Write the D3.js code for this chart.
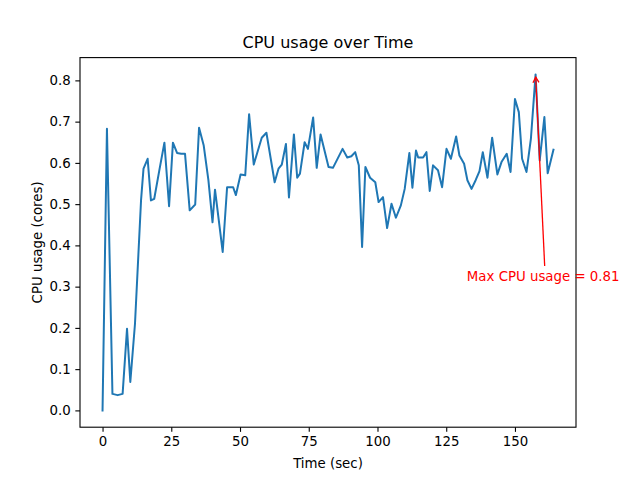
<!DOCTYPE html>
<html>
<head>
<meta charset="utf-8">
<script src="https://d3js.org/d3.v7.min.js"></script>
<style>
  html, body { margin: 0; padding: 0; background: #fff; }
  svg { display: block; font-family: "DejaVu Sans", sans-serif; }
</style>
</head>
<body>
<svg id="chart" width="640" height="480"></svg>
<script>
// ---- data ----
const timeSec = [0, 1.6, 3.6, 5.5, 7.3, 8.9, 10.1, 11.8, 14.0, 14.9, 16.4, 17.6, 18.8, 20.6, 22.5, 24.2, 25.6, 27.1, 28.6, 30.0,
  31.7, 33.7, 35.1, 36.8, 38.5, 40.0, 40.9, 43.7, 45.3, 47.5, 48.5, 50.2, 51.9, 53.3, 55.0, 57.9, 59.6, 62.6, 64.0, 65.2,
  66.7, 67.8, 69.6, 70.8, 71.8, 73.5, 74.7, 76.6, 77.9, 79.3, 82.2, 83.8, 87.3, 89.0, 90.5, 91.9, 93.2, 94.4, 95.6, 97.3,
  99.2, 100.4, 102.0, 103.5, 105.1, 106.7, 108.5, 109.9, 111.6, 112.7, 114.0, 114.8, 116.6, 117.8, 119.0, 120.2, 122.0, 123.5, 125.1, 126.7,
  128.6, 129.8, 131.5, 132.7, 134.2, 135.7, 137.1, 138.3, 140.0, 141.7, 143.6, 145.1, 147.0, 148.4, 150.0, 151.4, 152.6, 154.2, 155.8, 157.5,
  159.0, 160.7, 161.9, 164.0];
const cpuCores = [0.000, 0.683, 0.040, 0.037, 0.040, 0.198, 0.069, 0.210, 0.509, 0.586, 0.610, 0.509, 0.513, 0.580, 0.649, 0.495, 0.649, 0.624, 0.622, 0.622,
  0.485, 0.499, 0.685, 0.642, 0.558, 0.456, 0.535, 0.384, 0.541, 0.541, 0.522, 0.572, 0.570, 0.718, 0.596, 0.661, 0.673, 0.553, 0.586, 0.596,
  0.646, 0.516, 0.669, 0.564, 0.574, 0.650, 0.634, 0.710, 0.588, 0.669, 0.590, 0.588, 0.634, 0.613, 0.616, 0.626, 0.594, 0.396, 0.590, 0.564,
  0.553, 0.505, 0.517, 0.442, 0.501, 0.467, 0.497, 0.537, 0.624, 0.540, 0.630, 0.613, 0.613, 0.626, 0.532, 0.594, 0.582, 0.541, 0.634, 0.610,
  0.664, 0.618, 0.598, 0.558, 0.537, 0.558, 0.580, 0.626, 0.564, 0.661, 0.572, 0.602, 0.622, 0.578, 0.755, 0.723, 0.610, 0.578, 0.659, 0.8145,
  0.606, 0.711, 0.575, 0.632];
const xTicks = [0, 25, 50, 75, 100, 125, 150];
const yTicks = [0.0, 0.1, 0.2, 0.3, 0.4, 0.5, 0.6, 0.7, 0.8];
const titleText = "CPU usage over Time";
const xLabel = "Time (sec)";
const yLabel = "CPU usage (cores)";

// ---- layout ----
const W = 640, H = 480;
const mLeft = 80, mRight = 576, mTop = 57.6, mBottom = 427.2;
const svg = d3.select("#chart");

const data = timeSec.map((t, i) => ({ t, v: cpuCores[i] }));
const xMin = d3.min(timeSec), xMax = d3.max(timeSec);
const yMin = d3.min(cpuCores), yMax = d3.max(cpuCores);
const xPad = (xMax - xMin) * 0.05, yPad = (yMax - yMin) * 0.05;

const x = d3.scaleLinear().domain([xMin - xPad, xMax + xPad]).range([mLeft, mRight]);
const y = d3.scaleLinear().domain([yMin - yPad, yMax + yPad]).range([mBottom, mTop]);

// axes
const fontPx = 13.333;
const xAxis = d3.axisBottom(x).tickValues(xTicks).tickFormat(d3.format("d"))
  .tickSizeInner(4.67).tickSizeOuter(0).tickPadding(4.2);
const yAxis = d3.axisLeft(y).tickValues(yTicks).tickFormat(d3.format(".1f"))
  .tickSizeInner(4.67).tickSizeOuter(0).tickPadding(4.67);

const gx = svg.append("g").attr("transform", `translate(0,${mBottom})`).call(xAxis);
const gy = svg.append("g").attr("transform", `translate(${mLeft},0)`).call(yAxis);
[gx, gy].forEach(g => {
  g.select(".domain").remove();
  g.selectAll("line").attr("stroke", "#000").attr("stroke-width", 1.1);
  g.selectAll("text").attr("fill", "#000").style("font-size", fontPx + "px")
    .style("font-family", '"DejaVu Sans", sans-serif');
});

// clip for line
svg.append("clipPath").attr("id", "clip").append("rect")
  .attr("x", mLeft).attr("y", mTop).attr("width", mRight - mLeft).attr("height", mBottom - mTop);

// line
const line = d3.line().x(d => x(d.t)).y(d => y(d.v));
svg.append("path").datum(data)
  .attr("d", line)
  .attr("fill", "none")
  .attr("stroke", "#1f77b4")
  .attr("stroke-width", 2)
  .attr("stroke-linejoin", "round")
  .attr("stroke-linecap", "square")
  .attr("clip-path", "url(#clip)");

// spines
svg.append("rect")
  .attr("x", mLeft).attr("y", mTop).attr("width", mRight - mLeft).attr("height", mBottom - mTop)
  .attr("fill", "none").attr("stroke", "#000").attr("stroke-width", 1.1);

// annotation of max
const maxIdx = d3.maxIndex(cpuCores);
const maxT = timeSec[maxIdx], maxV = cpuCores[maxIdx];
const annText = svg.append("text")
  .attr("x", x(maxT - 25)).attr("y", y(maxV - 0.5))
  .attr("fill", "red")
  .style("font-size", fontPx + "px")
  .text("Max CPU usage = " + d3.format(".2f")(maxV));
const bb = annText.node().getBBox();
const tailX = bb.x + bb.width / 2 + 1.5, tailY = bb.y - 2.7;
const headX = x(maxT), headY = y(maxV);
const dx = headX - tailX, dy = headY - tailY, len = Math.hypot(dx, dy);
const ux = dx / len, uy = dy / len;
const endX = headX - ux * 2.7, endY = headY - uy * 2.7;
svg.append("line")
  .attr("x1", tailX).attr("y1", tailY).attr("x2", endX).attr("y2", endY)
  .attr("stroke", "red").attr("stroke-width", 1.3);
const hl = 5.5, hw = 3;
const px = -uy, py = ux;
svg.append("path")
  .attr("d", `M${endX - ux * hl + px * hw},${endY - uy * hl + py * hw} L${endX},${endY} L${endX - ux * hl - px * hw},${endY - uy * hl - py * hw}`)
  .attr("fill", "none").attr("stroke", "red").attr("stroke-width", 1.3);

// title & labels
svg.append("text")
  .attr("x", (mLeft + mRight) / 2).attr("y", mTop - 10)
  .attr("text-anchor", "middle")
  .style("font-size", "16px")
  .attr("fill", "#000")
  .text(titleText);
svg.append("text")
  .attr("x", (mLeft + mRight) / 2).attr("y", 468)
  .attr("text-anchor", "middle")
  .style("font-size", fontPx + "px")
  .attr("fill", "#000")
  .text(xLabel);
svg.append("text")
  .attr("transform", `translate(${42},${(mTop + mBottom) / 2}) rotate(-90)`)
  .attr("text-anchor", "middle")
  .style("font-size", fontPx + "px")
  .attr("fill", "#000")
  .text(yLabel);
</script>
</body>
</html>
